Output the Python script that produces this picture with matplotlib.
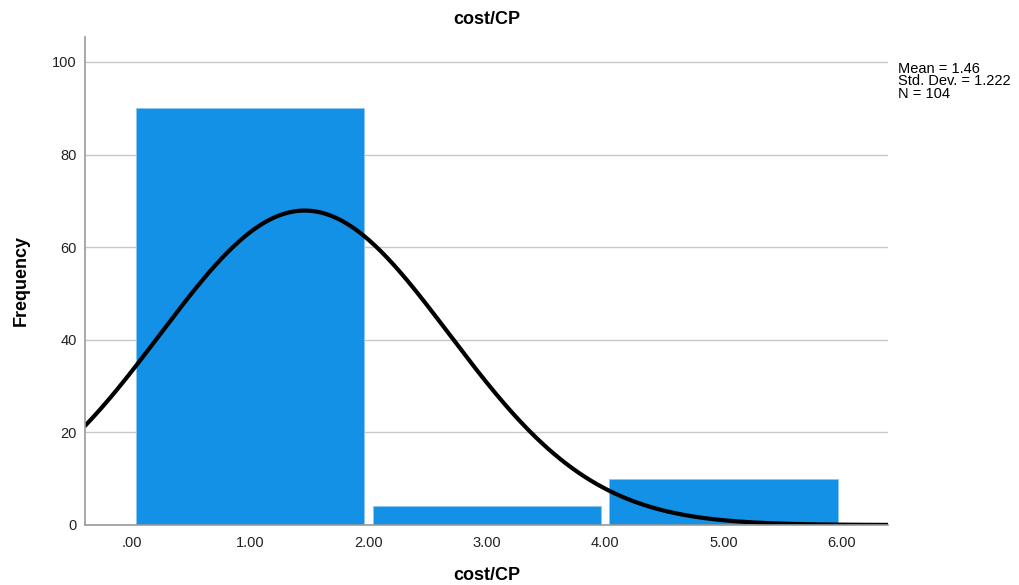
import numpy as np
import matplotlib
matplotlib.use('Agg')
import matplotlib.pyplot as plt

plt.rcParams['font.family'] = ['Liberation Sans', 'DejaVu Sans']

# histogram bins and counts
bin_centers = [1.0, 3.0, 5.0]
counts = [90, 4, 10]
bin_width = 2.0

# descriptive statistics (as shown by SPSS)
mean = 1.46
std_dev = 1.222
n = 104

x_ticks = [0, 1, 2, 3, 4, 5, 6]
x_tick_labels = ['.00', '1.00', '2.00', '3.00', '4.00', '5.00', '6.00']
y_ticks = [0, 20, 40, 60, 80, 100]

fig = plt.figure(figsize=(10.19, 5.85), dpi=100)
ax = fig.add_axes([0.0834, 0.1026, 0.788, 0.8342])

ax.set_axisbelow(True)
ax.yaxis.grid(True, color='#c8c8c8', linewidth=1)

ax.bar(bin_centers, counts, width=1.93, color='#1391e6', edgecolor='#8fc8f0', linewidth=0.6)

# normal curve scaled to the histogram
xs = np.linspace(-0.4, 6.4, 400)
ys = n * bin_width / (std_dev * np.sqrt(2 * np.pi)) * np.exp(-0.5 * ((xs - mean) / std_dev) ** 2)
ax.plot(xs, ys, color='black', linewidth=3, solid_capstyle='butt')

ax.set_xlim(-0.397, 6.389)
ax.set_ylim(0, 105.4)
ax.set_xticks(x_ticks)
ax.set_xticklabels(x_tick_labels)
ax.set_yticks(y_ticks)
ax.tick_params(axis='both', length=0, labelsize=10.5, colors='#222222', pad=8)
ax.tick_params(axis='y', pad=6)

for side in ['top', 'right']:
    ax.spines[side].set_visible(False)
for side in ['left', 'bottom']:
    ax.spines[side].set_color('#999999')
    ax.spines[side].set_linewidth(1.2)

ax.set_title('cost/CP', fontsize=13, fontweight='bold', pad=9)
ax.set_xlabel('cost/CP', fontsize=13, fontweight='bold', labelpad=12)
ax.set_ylabel('Frequency', fontsize=13, fontweight='bold', labelpad=16)

fig.text(898 / 1019, 1 - 62 / 585, f'Mean = {mean:.2f}\nStd. Dev. = {std_dev:.3f}\nN = {n}',
         fontsize=10.5, va='top', ha='left', linespacing=0.85)

plt.savefig('out.png', dpi=100)
